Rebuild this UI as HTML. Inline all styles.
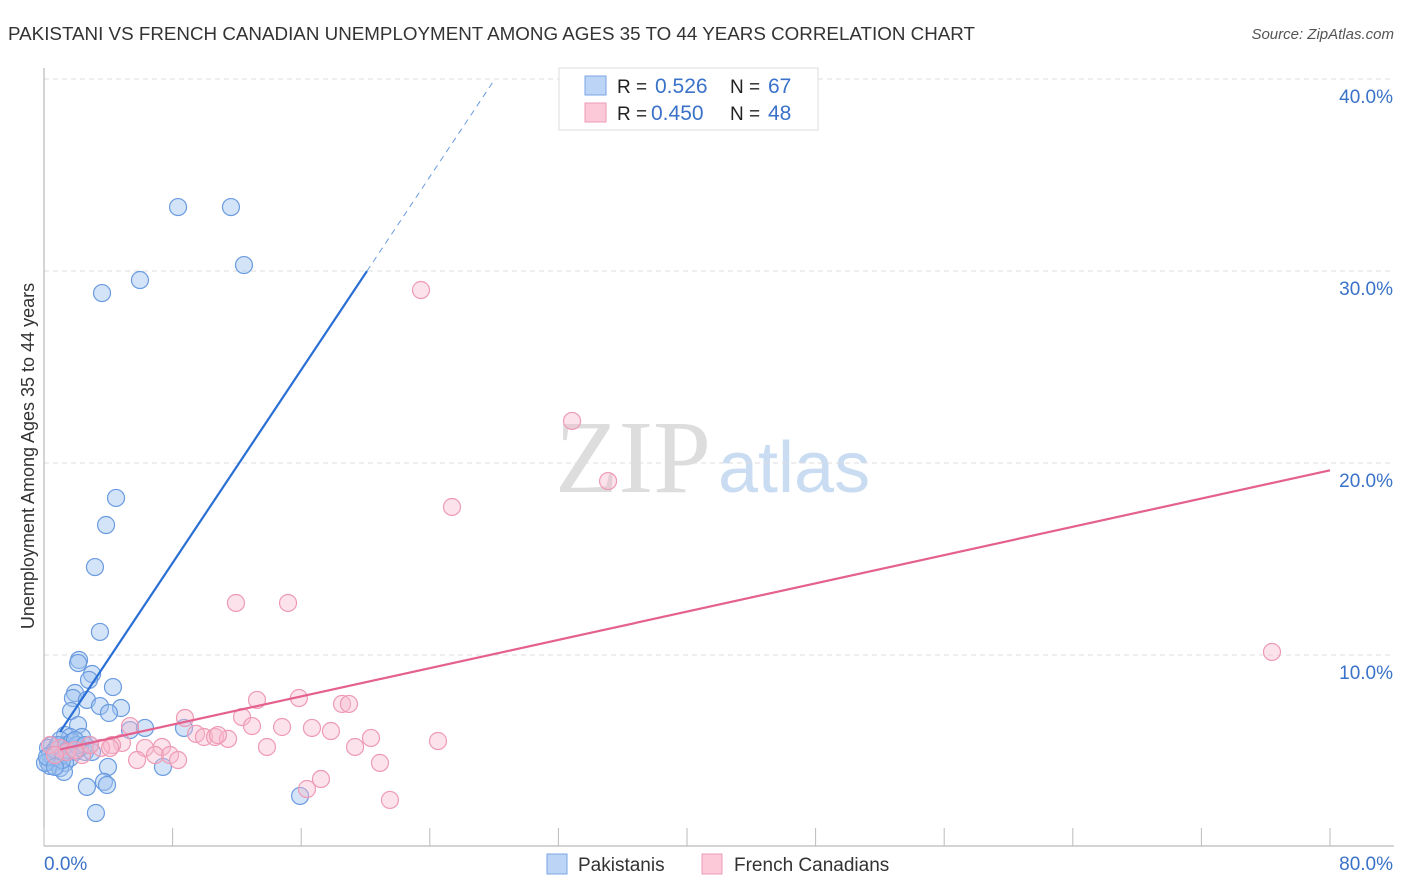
<!DOCTYPE html>
<html><head><meta charset="utf-8"><style>
body{margin:0;background:#fff;font-family:"Liberation Sans",sans-serif}
#wrap{position:relative;width:1406px;height:892px;overflow:hidden}
</style></head><body><div id="wrap">
<svg id="svg" width="1406" height="892" xmlns="http://www.w3.org/2000/svg"></svg>
</div>
<script>
const xTicks=[0,8,16,24,32,40,48,56,64,72,80];
const yTicks=[10,20,30,40];
const yTickLabels=["10.0%","20.0%","30.0%","40.0%"];
const pakX=[];const pakY=[];
const frX=[];const frY=[];
const pakPx=[[178,207],[231,207],[244,265],[140,280],[102,293],[116,498],[106,525],[95,567],[100,632],[79,660],[78,663],[92,674],[89,680],[113,687],[75,693],[73,698],[87,700],[100,706],[121,708],[71,711],[109,713],[78,725],[130,730],[184,728],[145,728],[65,735],[70,737],[82,737],[60,740],[90,745],[52,745],[48,748],[57,750],[64,752],[75,752],[85,752],[50,755],[60,757],[70,758],[48,762],[55,762],[65,763],[50,766],[60,768],[108,767],[163,767],[64,772],[87,787],[104,782],[107,785],[96,813],[300,796],[55,750],[66,745],[72,742],[80,748],[53,758],[58,745],[68,750],[77,745],[62,760],[45,763],[47,757],[55,767],[75,740],[85,745],[92,752]];
const frPx=[[421,290],[572,421],[608,481],[452,507],[236,603],[288,603],[1272,652],[257,700],[299,698],[342,704],[349,704],[185,718],[242,717],[130,726],[252,726],[282,727],[312,728],[331,731],[196,734],[204,737],[215,737],[228,739],[218,735],[371,738],[438,741],[122,743],[112,745],[101,748],[145,748],[162,747],[267,747],[355,747],[155,755],[170,755],[178,760],[137,760],[82,755],[380,763],[321,779],[307,789],[390,800],[60,748],[50,745],[67,752],[75,750],[55,755],[90,745],[110,748]];
// values (converted to data units)
pakPx.forEach(p=>{pakX.push(+((p[0]-44)/1286*80).toFixed(2));pakY.push(+((847-p[1])/19.2).toFixed(2));});
frPx.forEach(p=>{frX.push(+((p[0]-44)/1286*80).toFixed(2));frY.push(+((847-p[1])/19.2).toFixed(2));});
const pakLine=[4.74,1.257];
const frLine=[4.9,0.184];
const X0=44,X1=1330,Y0=847,Y1=79;
const sx=v=>X0+(v/80)*(X1-X0);
const sy=v=>Y0-(v/40)*(Y0-Y1);
const svg=document.getElementById('svg');
const NS='http://www.w3.org/2000/svg';
function mk(t,a,txt){const e=document.createElementNS(NS,t);for(const k in a)e.setAttribute(k,a[k]);if(txt!==undefined)e.textContent=txt;svg.appendChild(e);return e;}
let e;
e=mk('text',{x:8,y:40,'font-size':18,fill:'#333',textLength:967,lengthAdjust:'spacingAndGlyphs'},'PAKISTANI VS FRENCH CANADIAN UNEMPLOYMENT AMONG AGES 35 TO 44 YEARS CORRELATION CHART');

e=mk('text',{x:1394,y:39,'font-size':15,fill:'#555','text-anchor':'end','font-style':'italic'},'Source: ZipAtlas.com');

e=mk('text',{x:555,y:492,'font-size':104,fill:'#ddd','font-family':'Liberation Serif,serif'},'ZIP');

e=mk('text',{x:718,y:492,'font-size':72,fill:'#c9dcf2'},'atlas');

yTicks.forEach((t,i)=>{
 e=mk('line',{x1:X0,x2:1394,y1:sy(t),y2:sy(t),stroke:'#ddd','stroke-dasharray':'5,4'});
 
 e=mk('text',{x:1393,y:sy(t)+24,'font-size':19,fill:'#3a72c9','text-anchor':'end'},yTickLabels[i]);
 
});
e=mk('line',{x1:X0,x2:X0,y1:68,y2:846,stroke:'#aaa'});

e=mk('line',{x1:X0,x2:1394,y1:846,y2:846,stroke:'#aaa'});

xTicks.forEach(t=>{e=mk('line',{x1:sx(t),x2:sx(t),y1:828,y2:846,stroke:'#bbb'});
 });
e=mk('text',{x:44,y:870,'font-size':19,fill:'#3a72c9'},'0.0%');

e=mk('text',{x:1393,y:870,'font-size':19,fill:'#3a72c9','text-anchor':'end'},'80.0%');

e=mk('text',{x:34,y:456,'font-size':18,fill:'#333','text-anchor':'middle',transform:'rotate(-90 34 456)'},'Unemployment Among Ages 35 to 44 years');

pakX.forEach((x,i)=>{e=mk('circle',{cx:sx(x),cy:sy(pakY[i]),r:8.5,fill:'rgba(160,196,240,0.45)',stroke:'#6a9be0','stroke-width':1.2});
 });
frX.forEach((x,i)=>{e=mk('circle',{cx:sx(x),cy:sy(frY[i]),r:8.5,fill:'rgba(248,184,204,0.4)',stroke:'#ee9ab4','stroke-width':1.2});
 });
const bx0=1,bx1=(30-pakLine[0])/pakLine[1],bx2=(40-pakLine[0])/pakLine[1];
e=mk('line',{x1:sx(bx0),y1:sy(pakLine[0]+pakLine[1]*bx0),x2:sx(bx1),y2:sy(30),stroke:'#2a6fd6','stroke-width':2.2});

e=mk('line',{x1:sx(bx1),y1:sy(30),x2:sx(bx2),y2:sy(40),stroke:'#6a9be0','stroke-width':1,'stroke-dasharray':'6,5'});

e=mk('line',{x1:sx(1),y1:sy(frLine[0]+frLine[1]),x2:sx(80),y2:sy(frLine[0]+frLine[1]*80),stroke:'#e4608e','stroke-width':2.2});

e=mk('rect',{x:559,y:68,width:259,height:62,fill:'#fff',stroke:'#ddd'});

e=mk('rect',{x:585,y:76,width:21,height:19,fill:'#bcd4f5',stroke:'#7aa5e4'});

e=mk('rect',{x:585,y:103,width:21,height:19,fill:'#fbc9d8',stroke:'#ee9ab4'});

[[93,'0.526','67',655],[120,'0.450','48',651]].forEach(r=>{
 e=mk('text',{x:617,y:r[0],'font-size':19,fill:'#222'},'R = ');
 e=mk('text',{x:r[3],y:r[0],'font-size':21,fill:'#3a72c9'},r[1]);
 e=mk('text',{x:730,y:r[0],'font-size':19,fill:'#222'},'N = ');
 e=mk('text',{x:768,y:r[0],'font-size':21,fill:'#3a72c9'},r[2]);
});
e=mk('rect',{x:547,y:854,width:20,height:20,fill:'#bcd4f5',stroke:'#7aa5e4'});

e=mk('text',{x:578,y:871,'font-size':19,fill:'#333'},'Pakistanis');

e=mk('rect',{x:702,y:854,width:20,height:20,fill:'#fbc9d8',stroke:'#ee9ab4'});

e=mk('text',{x:734,y:871,'font-size':19,fill:'#333'},'French Canadians');

</script></body></html>
